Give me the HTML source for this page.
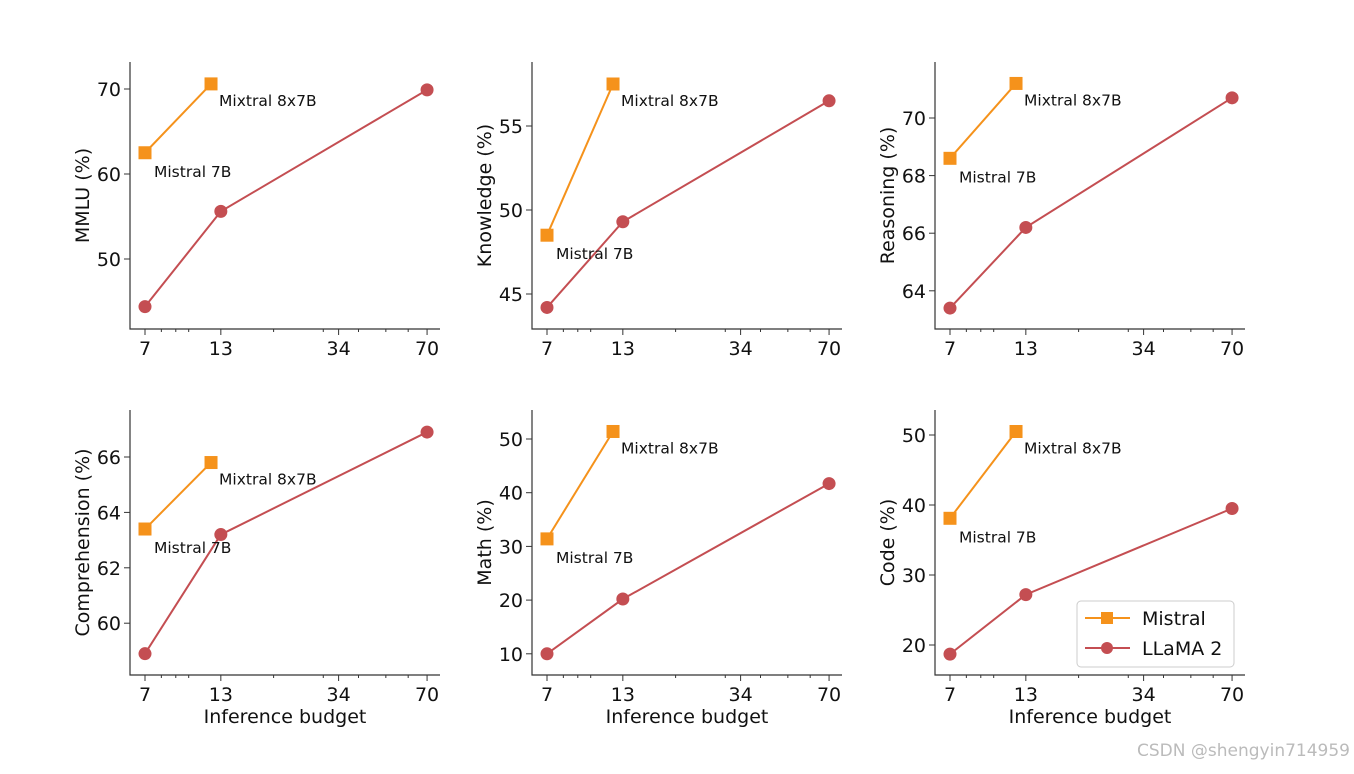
<!DOCTYPE html>
<html><head><meta charset="utf-8">
<style>
body{margin:0;background:#fff;}
svg{display:block;font-family:"DejaVu Sans","Liberation Sans",sans-serif;}
</style></head>
<body>
<svg id="chart" width="1354" height="774" viewBox="0 0 1354 774" xmlns="http://www.w3.org/2000/svg">
<text x="1350" y="756" text-anchor="end" font-size="17" fill="#bbb">CSDN @shengyin714959</text>
</svg>
<script>
const xTickLabels = [7, 13, 34, 70];
const xMinor = [8, 9, 10, 20, 30, 40, 50, 60];
const mistralX = [7, 12];
const llamaX = [7, 13, 70];
const panelNames = ["MMLU (%)", "Knowledge (%)", "Reasoning (%)", "Comprehension (%)", "Math (%)", "Code (%)"];
const yTicks = [[50,60,70],[45,50,55],[64,66,68,70],[60,62,64,66],[10,20,30,40,50],[20,30,40,50]];
const mistralVals = [[62.5,70.6],[48.5,57.5],[68.6,71.2],[63.4,65.8],[31.4,51.4],[38.1,50.5]];
const llamaVals = [[44.4,55.6,69.9],[44.2,49.3,56.5],[63.4,66.2,70.7],[58.9,63.2,66.9],[10.0,20.2,41.7],[18.7,27.2,39.5]];

const NS="http://www.w3.org/2000/svg";
const svg=document.getElementById('chart');
const ORANGE="#f5921b", RED="#c44e52";
const cols=[130,532,935], rows=[[62,329],[410,675]];
const ycal=[[70,89,8.5],[55,126,16.8],[70,118,28.8],[66,457,27.7],[50,439,5.37],[50,435,7.0]];
function el(tag,attrs,parent){const e=document.createElementNS(NS,tag);for(const k in attrs)e.setAttribute(k,attrs[k]);(parent||svg).appendChild(e);return e;}

for(let p=0;p<6;p++){
  const L=cols[p%3], T=rows[Math.floor(p/3)][0], B=rows[Math.floor(p/3)][1], R=L+310;
  const g=el('g',{});
  
  
  const xs=v=>L+15+(Math.log(v)-Math.log(7))*122.5;
  const c=ycal[p]; const ys=v=>c[1]+(c[0]-v)*c[2];
  const ax=el('path',{d:`M${L} ${T}V${B}H${R}`,stroke:'#333',fill:'none','stroke-width':1.2},g);
  
  
  xTickLabels.forEach(v=>{
    el('line',{x1:xs(v),x2:xs(v),y1:B,y2:B+6,stroke:'#333'},g);
    const t=el('text',{x:xs(v),y:B+26,'text-anchor':'middle','font-size':19,fill:'#111'},g);
    t.textContent=v;
    
    
  });
  xMinor.forEach(v=>el('line',{x1:xs(v),x2:xs(v),y1:B,y2:B+3,stroke:'#333'},g));
  yTicks[p].forEach(v=>{
    el('line',{x1:L-6,x2:L,y1:ys(v),y2:ys(v),stroke:'#333'},g);
    const t=el('text',{x:L-9,y:ys(v)+7,'text-anchor':'end','font-size':19,fill:'#111'},g);
    t.textContent=v;
    
    
  });
  const yl=el('text',{transform:`translate(${L-41},${(T+B)/2}) rotate(-90)`,'text-anchor':'middle','font-size':19,fill:'#111'},g);
  yl.textContent=panelNames[p];
  
  
  if(p>=3){
    const xl=el('text',{x:L+155,y:723,'text-anchor':'middle','font-size':19,fill:'#111'},g);
    xl.textContent='Inference budget';
    
    
  }
  const lp=llamaX.map((x,i)=>[xs(x),ys(llamaVals[p][i])]);
  const ll=el('polyline',{points:lp.map(q=>q.join(',')).join(' '),fill:'none',stroke:RED,'stroke-width':2},g);
  
  
  lp.forEach(q=>{const m=el('circle',{cx:q[0],cy:q[1],r:6.5,fill:RED},g);
    
    });
  const mp=mistralX.map((x,i)=>[xs(x),ys(mistralVals[p][i])]);
  const ml=el('polyline',{points:mp.map(q=>q.join(',')).join(' '),fill:'none',stroke:ORANGE,'stroke-width':2},g);
  
  
  mp.forEach(q=>{const m=el('rect',{x:q[0]-6.5,y:q[1]-6.5,width:13,height:13,fill:ORANGE},g);
    
    });
  const a1=el('text',{x:mp[0][0]+9,y:mp[0][1]+24,'font-size':15.5,fill:'#111'},g);
  a1.textContent='Mistral 7B';
  
  
  const a2=el('text',{x:mp[1][0]+8,y:mp[1][1]+22,'font-size':15.5,fill:'#111'},g);
  a2.textContent='Mixtral 8x7B';
  
  
}
const lg=el('g',{});


el('rect',{x:1077,y:601,width:157,height:66,rx:4,fill:'#fff',stroke:'#ccc'},lg);
[[ORANGE,'Mistral',618,'rect'],[RED,'LLaMA 2',648,'circle']].forEach(e=>{
  el('line',{x1:1085,x2:1130,y1:e[2],y2:e[2],stroke:e[0],'stroke-width':2},lg);
  if(e[3]==='rect')el('rect',{x:1101,y:e[2]-6,width:12,height:12,fill:e[0]},lg);
  else el('circle',{cx:1107,cy:e[2],r:6,fill:e[0]},lg);
  const t=el('text',{x:1142,y:e[2]+7,'font-size':19,fill:'#111'},lg);
  t.textContent=e[1];
  
  
});
</script>
</body></html>
